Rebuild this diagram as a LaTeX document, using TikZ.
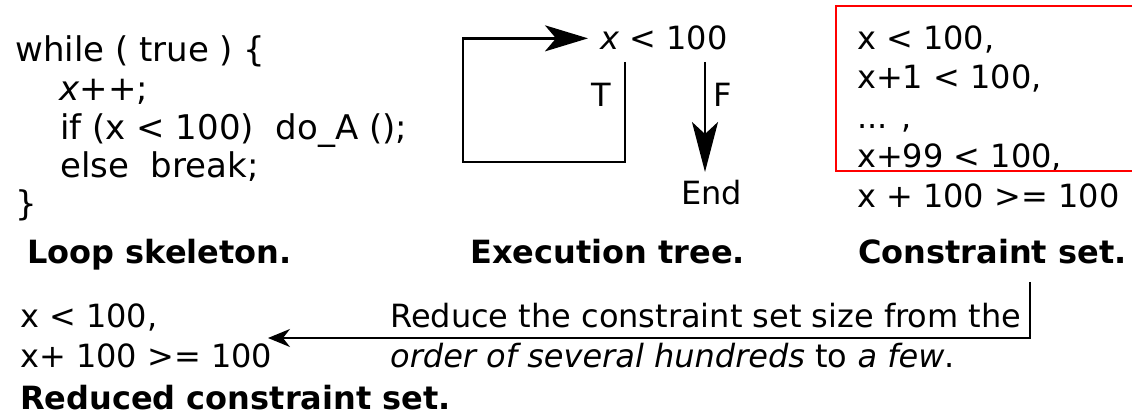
\documentclass[tikz,border=0pt]{standalone}
\usepackage{fontspec}
\setmainfont{DejaVu Sans}
\usetikzlibrary{arrows.meta}

\begin{document}
\begin{tikzpicture}[x=1pt,y=-1pt,
  txt/.style={anchor=base west, inner sep=0pt, font=\fontsize{32}{38}\selectfont},
  code/.style={anchor=base west, inner sep=0pt, font=\fontsize{34}{38}\selectfont},
  ttl/.style={anchor=base west, inner sep=0pt, font=\fontsize{32}{38}\selectfont\bfseries},
  flow/.style={line width=2.5pt},
  bigtip/.style={-{Stealth[length=43pt,width=26pt,inset=11pt]}},
  longtip/.style={-{Stealth[length=50pt,width=26pt,inset=12pt]}},
  smalltip/.style={-{Stealth[length=22pt,width=18pt,inset=7pt]}},
]
\useasboundingbox (0,0) rectangle (1132,419);

% ---- loop skeleton ----
\node[code] (c1) at (15,62)  {while ( true ) \{};
\node[code] (c2) at (59,101) {\textit{x}++;};
\node[code] (c3) at (60,139.5) {if (x < 100)\ \ do\_A ();};
\node[code] (c4) at (60,177.5) {else\ \ break;};
\node[code] (c5) at (15,216) {\}};
\node[ttl] (t1) at (27,264) {Loop skeleton.};

% ---- execution tree ----
\node[txt] (cond) at (600,50) {\textit{x} < 100};
\node[txt] (tl) at (591,107) {T};
\node[txt] (fl) at (713,107) {F};
\node[txt] (endn) at (681,205) {End};
\node[ttl] (t2) at (470,264) {Execution tree.};
\coordinate (tstart) at (625,62);
\coordinate (tcorner) at (463,162);
\coordinate (fstart) at (705,62);
\draw[flow,bigtip] (tstart) |- (tcorner) |- ([xshift=-12pt]cond.west);
\draw[flow,longtip] (fstart) -- (fstart |- {(0,172)});

% ---- constraint set ----
\node[txt] (k1) at (857,49.5)  {x < 100,};
\node[txt] (k2) at (857,89)    {x+1 < 100,};
\node[txt] (k3) at (857,128.5) {... ,};
\node[txt] (k4) at (857,168)   {x+99 < 100,};
\node[txt] (k5) at (857,207.5) {x + 100 >= 100};
\node[ttl] (t3) at (858,264) {Constraint set.};
\draw[red, line width=2pt] (1136,6) -- (836,6) -- (836,171) -- (1136,171);

% ---- reduced constraint set ----
\node[txt] (r1) at (20,328) {x < 100,};
\node[txt] (r2) at (20,367) {x+ 100 >= 100};
\node[txt] (m1) at (390,328) {Reduce the constraint set size from the};
\node[txt] (m2) at (390,367) {\textit{order of several hundreds} to \textit{a few}.};
\node[ttl] (t4) at (20,409) {Reduced constraint set.};
\coordinate (rstart) at (1030,282);
\coordinate (rtip) at (268,338);
\draw[line width=1.5pt,smalltip] (rstart) |- (rtip);
\end{tikzpicture}
\end{document}
